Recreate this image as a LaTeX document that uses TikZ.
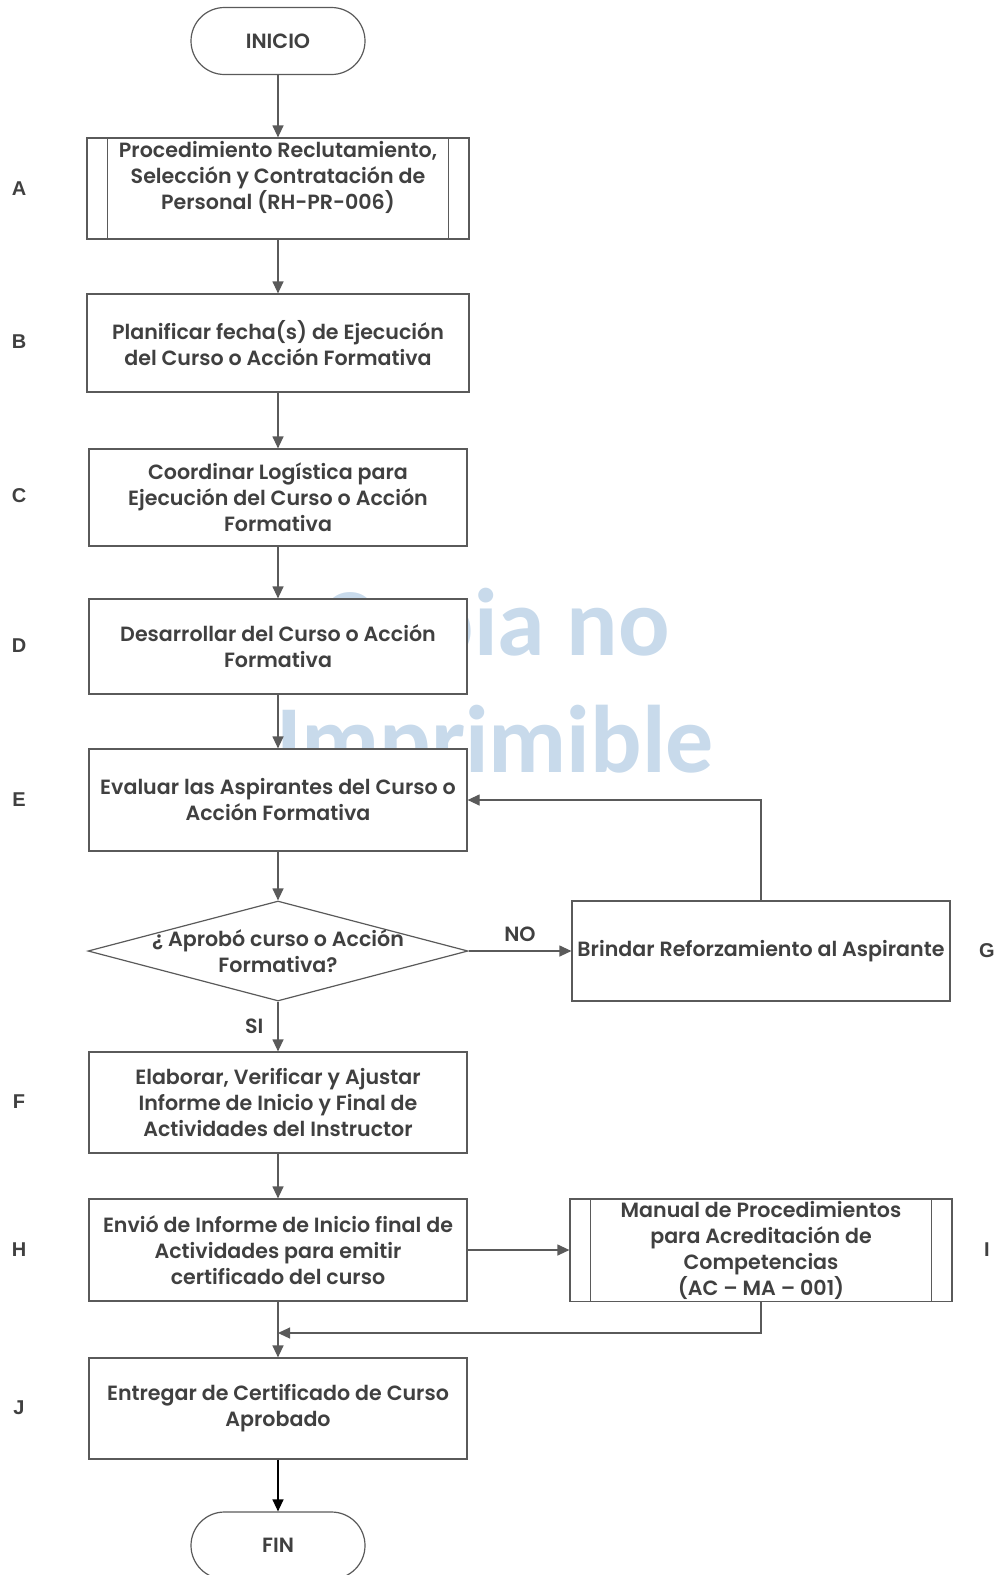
\documentclass[tikz,border=0pt]{standalone}
\usepackage{fontspec}
\setmainfont{Poppins}[BoldFont={Poppins SemiBold}]
\newfontfamily\markfont{Carlito}
\newfontfamily\letterfont{Liberation Sans}
\usetikzlibrary{positioning,shapes.geometric,shapes.misc,arrows.meta}

\definecolor{linegray}{HTML}{5A5A5A}
\definecolor{textgray}{HTML}{404040}
\definecolor{markblue}{HTML}{C8DAEB}

\tikzset{
	base/.style={draw=linegray, line width=0.6pt, fill=white, text=textgray, align=center,
		font=\fontsize{10.3}{13}\selectfont\bfseries},
	txt/.style={text=textgray, align=center, inner sep=0pt, font=\fontsize{10.3}{13}\selectfont\bfseries},
	proc/.style={base, rectangle, minimum width=189pt, minimum height=50pt, inner sep=1pt},
	term/.style={base, rectangle, rounded corners=16.75pt, minimum width=87pt, minimum height=33.5pt},
	dec/.style={draw=linegray, line width=0.6pt, fill=white, diamond, minimum width=190pt, minimum height=50pt, inner sep=0pt},
	letter/.style={text=textgray, font=\letterfont\fontsize{10}{10}\selectfont\bfseries},
	wmark/.style={text=markblue, anchor=base, inner sep=0pt, font=\markfont\fontsize{48}{48}\selectfont\bfseries},
	arr/.style={draw=linegray, line width=0.6pt, -{Triangle[length=6pt,width=5.5pt]}},
	side/.style={draw=linegray, line width=0.6pt}
}

\begin{document}
\begin{tikzpicture}[x=0.5pt,y=-0.5pt]
	\useasboundingbox (0,0) rectangle (996,1575);
	\clip (0,0) rectangle (996,1575);

	% marca de agua
	\node[wmark] (wm1) at (495,655) {Copia no};
	\node[wmark] (wm2) at (495,772) {Imprimible};

	% etapas
	\node[term] (ini) at (278,41) {INICIO};
	\node[proc, minimum width=191pt, minimum height=50.5pt] (A) at (278,188.5) {};
	\node[txt] (Atxt) at (278,177) {Procedimiento Reclutamiento,\\ Selección y Contratación de\\ Personal (RH-PR-006)};
	\node[proc, minimum width=191pt, minimum height=49pt] (B) at (278,343) {Planificar fecha(s) de Ejecución\\ del Curso o Acción Formativa};
	\node[proc, minimum height=48.5pt] (C) at (278,497.5) {Coordinar Logística para\\ Ejecución del Curso o Acción\\ Formativa};
	\node[proc, minimum height=47.5pt] (D) at (278,646.5) {Desarrollar del Curso o Acción\\ Formativa};
	\node[proc, minimum height=51pt] (E) at (278,800) {Evaluar las Aspirantes del Curso o\\ Acción Formativa};
	\node[dec] (Q) at (278,951) {};
	\node[txt] (Qtxt) at (Q) {¿ Aprobó curso o Acción\\ Formativa?};
	\node[proc] (G) at (761,951) {Brindar Reforzamiento al Aspirante};
	\node[proc, minimum height=50.5pt] (F) at (278,1102.5) {Elaborar, Verificar y Ajustar\\ Informe de Inicio y Final de\\ Actividades del Instructor};
	\node[proc, minimum height=51pt] (H) at (278,1250) {Envió de Informe de Inicio final de\\ Actividades para emitir\\ certificado del curso};
	\node[proc, minimum width=191pt, minimum height=51pt] (I) at (761,1250) {Manual de Procedimientos\\ para Acreditación de\\ Competencias\\ (AC – MA – 001)};
	\node[proc, minimum height=50.5pt] (J) at (278,1408.5) {Entregar de Certificado de Curso\\ Aprobado};
	\node[term] (fin) at (278,1545.5) {FIN};

	% barras de subproceso
	\foreach \n in {A,I}{
		\draw[side] ([xshift=10.5pt]\n.north west) -- ([xshift=10.5pt]\n.south west);
		\draw[side] ([xshift=-10.5pt]\n.north east) -- ([xshift=-10.5pt]\n.south east);
	}

	% letras
	\node[letter] (lA) at (19,189) {A};
	\node[letter] (lB) at (19,342) {B};
	\node[letter] (lC) at (19,496) {C};
	\node[letter] (lD) at (19,646) {D};
	\node[letter] (lE) at (19,800) {E};
	\node[letter] (lG) at (987,951) {G};
	\node[letter] (lF) at (19,1102) {F};
	\node[letter] (lH) at (19,1250) {H};
	\node[letter] (lI) at (987,1250) {I};
	\node[letter] (lJ) at (19,1408) {J};

	% conectores
	\draw[arr] (ini) -- (A);
	\draw[arr] (A) -- (B);
	\draw[arr] (B) -- (C);
	\draw[arr] (C) -- (D);
	\draw[arr] (D) -- (E);
	\draw[arr] (E) -- (Q);
	\draw[arr] (Q) -- node[txt, above=4.5pt] (no) {NO} (G);
	\draw[arr] (G.north) |- (E.east);
	\draw[arr] (Q) -- node[txt, left=7pt] (si) {SI} (F);
	\draw[arr] (F) -- (H);
	\draw[arr] (H) -- (I);
	\coordinate (join) at (278,1333);
	\draw[arr] (H) -- (J);
	\draw[arr] (I.south) |- (join);
	\draw[arr, draw=black] (J) -- (fin);
\end{tikzpicture}
\end{document}
